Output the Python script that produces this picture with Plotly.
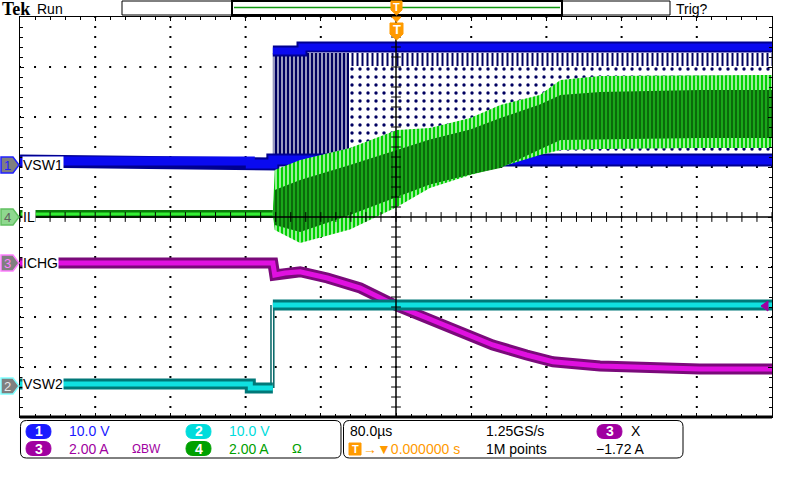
import plotly.graph_objects as go

# Scope capture: 80 us/div, trigger at t = 0 (centre of screen)
# CH1 VSW1 (V)
vsw1_low_t = [-400, -155, -155, -131, -131, 400]
vsw1_low_v = [0.8, 0.8, 0.2, 0.2, 1.0, 1.0]
vsw1_high_t = [-131, -100, -100, 400]
vsw1_high_v = [22.8, 22.8, 23.6, 23.6]
# ringing between the rails (dense part, sparse part, band under the top rail)
vsw1_dense_t = [-131, -50]
vsw1_sparse_t = [-50, 400]
vsw1_ring_hi = 22.4
vsw1_ring_lo = 1.8
vsw1_top_ring_lo = 19.8

# CH4 IL (A)
il_pre_t = [-400, -131]
il_pre_a = [0.12, 0.12]
il_t = [-131, -129, -102, -49, 1, 36, 79, 111, 153, 175, 217, 323, 400]
il_upper = [0.12, 1.88, 2.28, 2.76, 3.48, 3.56, 3.96, 4.48, 4.88, 5.48, 5.64, 5.68, 5.68]
il_lower = [0.12, -0.52, -1.04, -0.5, 0.4, 1.16, 1.68, 2.0, 2.48, 2.68, 2.72, 2.76, 2.76]
il_core_hi = [0.12, 1.08, 1.48, 2.08, 2.68, 3.1, 3.5, 3.96, 4.5, 4.88, 5.0, 5.08, 5.08]
il_core_lo = [0.12, -0.32, -0.6, 0.08, 0.8, 1.3, 1.7, 1.96, 2.7, 3.08, 3.12, 3.16, 3.16]

# CH3 ICHG (A)
ichg_t = [-400, -131, -129, -118, -102, -73, -38, 1, 33, 68, 103, 139, 167, 217, 270, 323, 400]
ichg_a = [0.0, 0.0, -0.48, -0.4, -0.35, -0.6, -1.0, -1.72, -2.2, -2.75, -3.28, -3.68, -3.95, -4.12, -4.2, -4.24, -4.24]

# CH2 VSW2 (V)
vsw2_t = [-400, -155, -155, -131, None, -131, 400]
vsw2_v = [0.4, 0.4, -0.4, -0.4, None, 16.2, 16.2]
vsw2_edge_t = [-133, -133, None, -130, -130]
vsw2_edge_v = [-0.4, 16.2, None, -0.4, 16.2]

# channel ground marker (divisions) and scale (units/div)
CH_OFFSET = {1: 1.04, 2: -3.38, 3: -0.92, 4: 0.0}
CH_SCALE = {1: 10.0, 2: 10.0, 3: 2.0, 4: 2.0}

W, H = 800, 480
L, R, T, B = 20, 772, 17, 417


def to_div(vals, ch):
    return [None if v is None else CH_OFFSET[ch] + v / CH_SCALE[ch] for v in vals]


def px(x):
    return (x - L) / (R - L)


def py(y):
    return (B - y) / (B - T)


def poly(points):
    return 'M ' + ' L '.join(f'{px(x):.5f},{py(y):.5f}' for x, y in points) + ' Z'


def rounded(x0, y0, x1, y1, r):
    return ' '.join([
        f'M {px(x0 + r):.5f},{py(y0):.5f}', f'L {px(x1 - r):.5f},{py(y0):.5f}',
        f'Q {px(x1):.5f},{py(y0):.5f} {px(x1):.5f},{py(y0 + r):.5f}',
        f'L {px(x1):.5f},{py(y1 - r):.5f}',
        f'Q {px(x1):.5f},{py(y1):.5f} {px(x1 - r):.5f},{py(y1):.5f}',
        f'L {px(x0 + r):.5f},{py(y1):.5f}',
        f'Q {px(x0):.5f},{py(y1):.5f} {px(x0):.5f},{py(y1 - r):.5f}',
        f'L {px(x0):.5f},{py(y0 + r):.5f}',
        f'Q {px(x0):.5f},{py(y0):.5f} {px(x0 + r):.5f},{py(y0):.5f} Z'])


fig = go.Figure()
annots = []
shapes = []


def text(x, y, s, color='black', size=14, anchor='left', bg=None, family='Liberation Sans'):
    annots.append(dict(x=px(x), y=py(y), xref='paper', yref='paper', text=s, showarrow=False,
                       xanchor=anchor, yanchor='middle', bgcolor=bg, borderpad=0,
                       font=dict(family=family, size=size, color=color)))


def line(t, v, ch, color, width):
    fig.add_trace(go.Scatter(x=t, y=to_div(v, ch), mode='lines', line=dict(color=color, width=width),
                             hoverinfo='skip', showlegend=False, connectgaps=False))


def region(t, hi, lo, ch, pattern):
    pattern = dict(pattern, fgopacity=1)
    fig.add_trace(go.Scatter(x=list(t) + list(t[::-1]), y=to_div(list(hi) + list(lo[::-1]), ch),
                             mode='lines', fill='toself', line=dict(width=0, color='rgba(0,0,0,0)'),
                             fillpattern=pattern, hoverinfo='skip', showlegend=False))


# graticule dots
gx, gy = [], []
for k in [-4, -3, -2, -1, 1, 2, 3, 4]:
    for m in range(-20, 21):
        gx.append(k * 80)
        gy.append(m * 0.2)
for k in [-3, -2, -1, 1, 2, 3]:
    for m in range(-25, 26):
        gx.append(m * 16)
        gy.append(k)
fig.add_trace(go.Scatter(x=gx, y=gy, mode='markers', marker=dict(symbol='square', size=2, color='black'),
                         hoverinfo='skip', showlegend=False))

# CH1 ringing
NAVY = '#000060'
region(vsw1_dense_t, [vsw1_ring_hi] * 2, [vsw1_ring_lo] * 2, 1,
       dict(shape='|', fgcolor='white', bgcolor=NAVY, size=4, solidity=0.3))
region(vsw1_sparse_t, [vsw1_ring_hi] * 2, [vsw1_ring_lo] * 2, 1,
       dict(shape='.', fgcolor=NAVY, bgcolor='white', size=8, solidity=0.14))
region(vsw1_sparse_t, [vsw1_ring_hi] * 2, [vsw1_top_ring_lo] * 2, 1,
       dict(shape='|', fgcolor=NAVY, bgcolor='white', size=5, solidity=0.4))
line(vsw1_low_t, vsw1_low_v, 1, '#000090', 13)
line(vsw1_low_t, vsw1_low_v, 1, '#0a0af0', 9)
line(vsw1_high_t, vsw1_high_v, 1, '#000090', 11)
line(vsw1_high_t, vsw1_high_v, 1, '#0a0af0', 7)

# CH4 IL
line(il_pre_t, il_pre_a, 4, '#087a08', 8)
line(il_pre_t, il_pre_a, 4, '#33ee33', 3)
region(il_t, il_upper, il_lower, 4, dict(shape='|', fgcolor='#00d000', bgcolor='white', size=4, solidity=0.7))
region(il_t, il_core_hi, il_core_lo, 4, dict(shape='|', fgcolor='#22d022', bgcolor='#0b6a0b', size=4, solidity=0.3))

# CH3 ICHG
line(ichg_t, ichg_a, 3, '#7a0a7a', 11)
line(ichg_t, ichg_a, 3, '#e010e0', 5)

# CH2 VSW2
line(vsw2_edge_t, vsw2_edge_v, 2, '#006464', 1.5)
line(vsw2_t, vsw2_v, 2, '#007878', 11)
line(vsw2_t, vsw2_v, 2, '#10e0e0', 5)

# centre-line minor ticks
fig.add_trace(go.Scatter(x=[m * 16 for m in range(-25, 26)], y=[0] * 51, mode='markers',
                         marker=dict(symbol='line-ns', size=7, line=dict(width=1, color='black')),
                         hoverinfo='skip', showlegend=False))
fig.add_trace(go.Scatter(x=[0] * 41, y=[m * 0.2 for m in range(-20, 21)], mode='markers',
                         marker=dict(symbol='line-ew', size=7, line=dict(width=1, color='black')),
                         hoverinfo='skip', showlegend=False))

shapes.append(dict(type='line', x0=0, x1=0, y0=-4, y1=4, xref='x', yref='y', line=dict(color='black', width=1.5)))
shapes.append(dict(type='line', x0=-400, x1=400, y0=0, y1=0, xref='x', yref='y', line=dict(color='black', width=1.5)))
shapes.append(dict(type='line', x0=0, x1=1, y0=0, y1=0, xref='paper', yref='paper', line=dict(color='black', width=3)))

# trace labels
text(22, 165, 'VSW1', bg='white')
text(22, 217, 'IL', bg='white')
text(22, 263, 'ICHG', bg='white')
text(22, 384, 'VSW2', bg='white')

# channel ground markers
for ch, fill, edge, tcol in [(1, '#7f7f7f', '#2020ff', '#2020ff'), (4, '#8fd88f', '#60c060', '#606060'),
                             (3, '#7f7f7f', '#ff80ff', '#ff80ff'), (2, '#7f7f7f', '#80ffff', '#e8e8e8')]:
    g = T + (4 - CH_OFFSET[ch]) * 50
    shapes.append(dict(type='path', xref='paper', yref='paper', path=poly([(1, g - 8), (13, g - 8), (19, g), (13, g + 8), (1, g + 8)]),
                       fillcolor=fill, line=dict(color=edge, width=1.5)))
    text(7.5, g, str(ch), color=tcol, size=13, anchor='center')

# cursor marker at right edge
shapes.append(dict(type='path', xref='paper', yref='paper', path=poly([(761, 306), (768, 301), (768, 311)]),
                   fillcolor='#a000a0', line=dict(color='#a000a0', width=1)))

# top bar
text(1, 9, '<b>Tek</b>', size=18, family='Liberation Serif')
text(36, 9, 'Run', size=14)
text(675, 9, 'Trig?', size=14)
shapes.append(dict(type='rect', xref='paper', yref='paper', x0=px(122), x1=px(670), y0=py(1), y1=py(15), line=dict(color='black', width=1)))
shapes.append(dict(type='rect', xref='paper', yref='paper', x0=px(232), x1=px(562), y0=py(1), y1=py(15), line=dict(color='black', width=2)))
shapes.append(dict(type='line', xref='paper', yref='paper', x0=px(234), x1=px(560), y0=py(7.5), y1=py(7.5), line=dict(color='#109910', width=1.5)))
ORANGE = '#ff9a00'
shapes.append(dict(type='path', xref='paper', yref='paper', path=poly([(391, 1), (402, 1), (402, 10), (396.5, 15), (391, 10)]),
                   fillcolor=ORANGE, line=dict(color=ORANGE, width=1)))
shapes.append(dict(type='path', xref='paper', yref='paper', path=poly([(392, 17), (401, 17), (396.5, 22)]),
                   fillcolor=ORANGE, line=dict(color=ORANGE, width=1)))
shapes.append(dict(type='path', xref='paper', yref='paper', path=poly([(390, 23), (403, 23), (403, 34), (396.5, 40), (390, 34)]),
                   fillcolor=ORANGE, line=dict(color=ORANGE, width=1)))
text(396.5, 7, '<b>T</b>', color='white', size=11, anchor='center')
text(396.5, 30, '<b>T</b>', color='white', size=13, anchor='center')

# bottom readouts
shapes.append(dict(type='path', xref='paper', yref='paper', path=rounded(20.5, 420.5, 341, 458, 6), line=dict(color='black', width=1)))
shapes.append(dict(type='path', xref='paper', yref='paper', path=rounded(343.5, 420.5, 683, 458, 6), line=dict(color='black', width=1)))


def pill(x0, y, s, color):
    shapes.append(dict(type='path', xref='paper', yref='paper', path=rounded(x0, y - 7, x0 + 25, y + 7, 7),
                       fillcolor=color, line=dict(color=color, width=1)))
    text(x0 + 12.5, y, '<b>' + s + '</b>', color='white', size=14, anchor='center')


BLUE, CYAN, PURPLE, GREEN = '#1a1aff', '#00dcdc', '#a000a0', '#00a000'
r1, r2 = 431.5, 448.5
pill(26, r1, '1', BLUE)
text(68, r1, '10.0 V', BLUE)
pill(186, r1, '2', CYAN)
text(228, r1, '10.0 V', CYAN)
pill(26, r2, '3', PURPLE)
text(68, r2, '2.00 A', PURPLE)
text(131, r2, 'ΩBW', PURPLE, size=12)
pill(186, r2, '4', GREEN)
text(228, r2, '2.00 A', GREEN)
text(291, r2, 'Ω', GREEN, size=13)

text(349, r1, '80.0µs')
text(485, r1, '1.25GS/s')
pill(597, r1, '3', PURPLE)
text(630, r1, 'X', size=14)
shapes.append(dict(type='rect', xref='paper', yref='paper', x0=px(349), x1=px(361), y0=py(443), y1=py(455),
                   fillcolor=ORANGE, line=dict(color=ORANGE, width=1)))
text(355, r2, '<b>T</b>', color='white', size=11, anchor='center')
text(362, r2, '→▼0.000000 s', ORANGE)
text(485, r2, '1M points')
text(595, r2, '−1.72 A')

fig.update_xaxes(range=[-400, 400], showgrid=False, zeroline=False, showticklabels=False,
                 showline=True, linecolor='black', linewidth=1, mirror='ticks', ticks='inside',
                 ticklen=4, tickcolor='black', tick0=0, dtick=80,
                 minor=dict(dtick=16, ticks='inside', ticklen=3, tickcolor='black'))
fig.update_yaxes(range=[-4, 4], showgrid=False, zeroline=False, showticklabels=False,
                 showline=True, linecolor='black', linewidth=1, mirror='ticks', ticks='inside',
                 ticklen=4, tickcolor='black', tick0=0, dtick=1,
                 minor=dict(dtick=0.2, ticks='inside', ticklen=3, tickcolor='black'))
fig.update_layout(width=W, height=H, margin=dict(l=L, r=W - R, t=T, b=H - B),
                  paper_bgcolor='white', plot_bgcolor='white', showlegend=False,
                  shapes=shapes, annotations=annots)

# drop the browser's default 8px body margin so the figure sits at the page origin
fig.write_html("out.html", config={'displayModeBar': False},
               post_script="document.body.style.margin='0';")
